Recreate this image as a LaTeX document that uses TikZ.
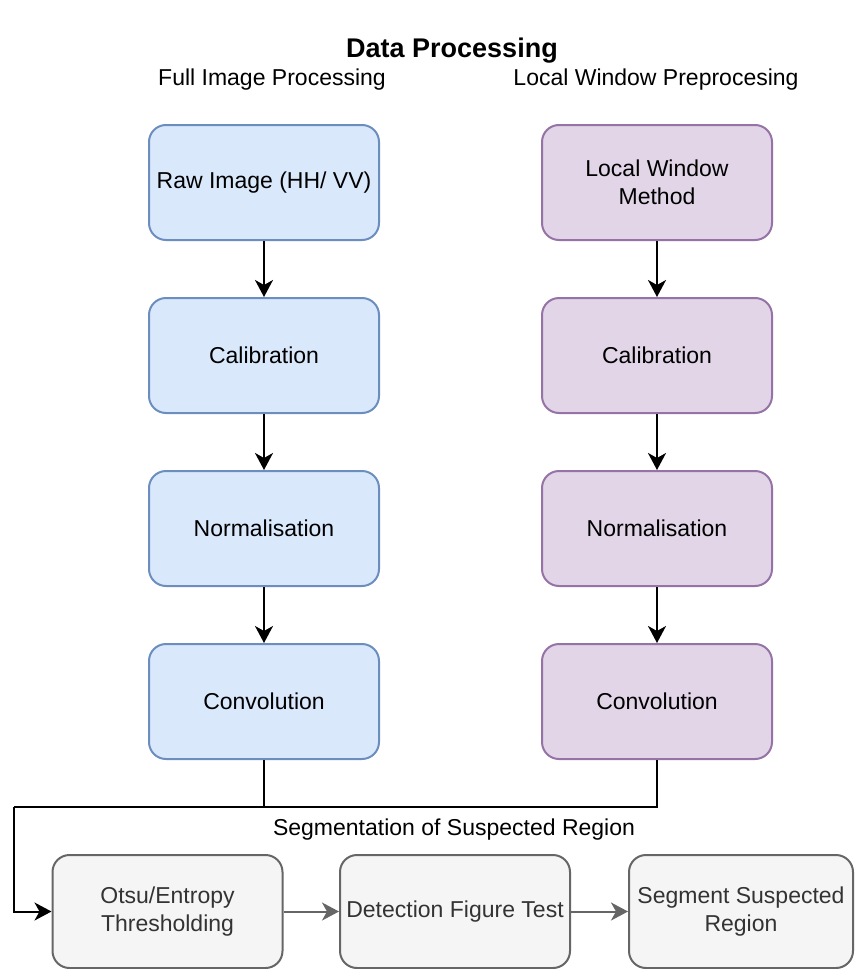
\documentclass[tikz,border=0pt]{standalone}
\usepackage{fontspec}
\setmainfont{Liberation Sans}
\usetikzlibrary{arrows.meta}
\definecolor{bluefill}{HTML}{DAE8FC}
\definecolor{bluedraw}{HTML}{6C8EBF}
\definecolor{purpfill}{HTML}{E1D5E7}
\definecolor{purpdraw}{HTML}{9673A6}
\definecolor{grayfill}{HTML}{F5F5F5}
\definecolor{graydraw}{HTML}{666666}
\tikzset{
  box/.style={rounded corners=17pt, line width=2pt, minimum width=230pt, minimum height=115pt,
    align=center, inner sep=2pt, font=\fontsize{23}{27.5}\selectfont},
  bluebox/.style={box, fill=bluefill, draw=bluedraw},
  purpbox/.style={box, fill=purpfill, draw=purpdraw},
  graybox/.style={box, fill=grayfill, draw=graydraw, text=black!80, minimum height=113pt},
  conn/.style={line width=2pt, -{Stealth[length=17pt,width=18pt,inset=5pt]}},
  plainconn/.style={line width=2pt},
  grayconn/.style={conn, draw=graydraw},
  heading/.style={font=\fontsize{23}{27.5}\selectfont, inner sep=0pt},
  titletext/.style={font=\bfseries\fontsize{27}{32}\selectfont, inner sep=0pt}
}
\begin{document}
\begin{tikzpicture}[x=1pt,y=-1pt]
\useasboundingbox (0,0) rectangle (854,969);
\node[titletext] (title) at (452,51) {Data Processing};
\node[heading] (hleft) at (272,80) {Full Image Processing};
\node[heading] (hright) at (656,80) {Local Window Preprocesing};
\node[heading] (hseg) at (454,830) {Segmentation of Suspected Region};

\node[bluebox] (l1) at (264,182.5) {Raw Image (HH/ VV)};
\node[bluebox] (l2) at (264,355.5) {Calibration};
\node[bluebox] (l3) at (264,528.5) {Normalisation};
\node[bluebox] (l4) at (264,701.5) {Convolution};

\node[purpbox] (r1) at (657,182.5) {Local Window\\Method};
\node[purpbox] (r2) at (657,355.5) {Calibration};
\node[purpbox] (r3) at (657,528.5) {Normalisation};
\node[purpbox] (r4) at (657,701.5) {Convolution};

\node[graybox] (b1) at (167.5,911.5) {Otsu/Entropy\\Thresholding};
\node[graybox] (b2) at (455,911.5) {Detection Figure Test};
\node[graybox, minimum width=224pt] (b3) at (741,911.5) {Segment Suspected\\Region};

\draw[conn] (l1) -- (l2);
\draw[conn] (l2) -- (l3);
\draw[conn] (l3) -- (l4);
\draw[conn] (r1) -- (r2);
\draw[conn] (r2) -- (r3);
\draw[conn] (r3) -- (r4);

\coordinate (jl) at (264,806.5);
\coordinate (jr) at (657,806.5);
\coordinate (jx) at (14,806.5);
\draw[plainconn] (l4.south) -- (jl);
\draw[plainconn, line join=miter] (r4.south) -- (jr) -- (jx);
\draw[conn, line join=miter] (jx) |- (b1.west);

\draw[grayconn] (b1) -- (b2);
\draw[grayconn] (b2) -- (b3);
\end{tikzpicture}
\end{document}
